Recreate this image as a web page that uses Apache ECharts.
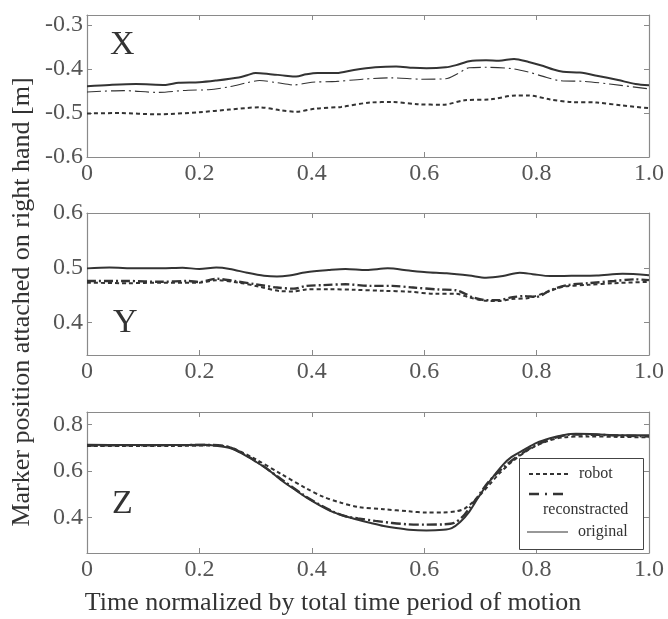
<!DOCTYPE html>
<html><head><meta charset="utf-8">
<script src="https://cdn.jsdelivr.net/npm/echarts@6/dist/echarts.min.js"></script>
<style>html,body{margin:0;padding:0;background:#fff}#c{width:668px;height:619px}</style>
</head><body><div id="c"></div>
<script>
// ---- tick labels / categories ----
const xTickLabels = ['0', '0.2', '0.4', '0.6', '0.8', '1.0'];
const panelNames = ['X', 'Y', 'Z'];
const seriesNames = ['robot', 'reconstracted', 'original'];
const yTicksX = [-0.6, -0.5, -0.4, -0.3];
const yTicksY = [0.4, 0.5, 0.6];
const yTicksZ = [0.4, 0.6, 0.8];
const yRangeX = [-0.6, -0.277];
const yRangeY = [0.341, 0.6];
const yRangeZ = [0.248, 0.854];

// ---- X panel ----
const xOriginal = [[0,-0.439],[0.04,-0.436],[0.087,-0.434],[0.14,-0.436],[0.163,-0.431],[0.2,-0.430],[0.23,-0.426],[0.27,-0.419],[0.285,-0.414],[0.3,-0.409],[0.323,-0.411],[0.353,-0.415],[0.372,-0.417],[0.39,-0.412],[0.41,-0.409],[0.444,-0.409],[0.475,-0.402],[0.513,-0.396],[0.55,-0.394],[0.58,-0.397],[0.604,-0.398],[0.638,-0.396],[0.657,-0.391],[0.68,-0.382],[0.71,-0.380],[0.733,-0.381],[0.76,-0.377],[0.786,-0.384],[0.812,-0.393],[0.83,-0.401],[0.847,-0.406],[0.877,-0.408],[0.907,-0.415],[0.945,-0.425],[0.976,-0.434],[1.0,-0.437]];
const xRecon = [[0,-0.452],[0.065,-0.449],[0.125,-0.453],[0.18,-0.448],[0.216,-0.447],[0.254,-0.440],[0.285,-0.431],[0.307,-0.426],[0.338,-0.431],[0.368,-0.436],[0.4,-0.430],[0.444,-0.428],[0.49,-0.423],[0.543,-0.420],[0.596,-0.423],[0.638,-0.422],[0.66,-0.410],[0.68,-0.397],[0.71,-0.396],[0.755,-0.399],[0.786,-0.407],[0.81,-0.416],[0.84,-0.426],[0.885,-0.428],[0.93,-0.434],[1.0,-0.445]];
const xRobot = [[0,-0.501],[0.057,-0.500],[0.125,-0.503],[0.2,-0.498],[0.254,-0.492],[0.307,-0.487],[0.345,-0.494],[0.372,-0.497],[0.406,-0.490],[0.452,-0.486],[0.505,-0.476],[0.543,-0.475],[0.588,-0.480],[0.634,-0.481],[0.672,-0.471],[0.718,-0.469],[0.763,-0.460],[0.786,-0.460],[0.824,-0.469],[0.862,-0.475],[0.907,-0.476],[0.953,-0.483],[1.0,-0.489]];

// ---- Y panel ----
const yOriginal = [[0,0.499],[0.04,0.5005],[0.087,0.499],[0.133,0.499],[0.17,0.500],[0.2,0.498],[0.23,0.5005],[0.254,0.498],[0.285,0.491],[0.315,0.4855],[0.338,0.484],[0.36,0.486],[0.39,0.492],[0.43,0.496],[0.46,0.498],[0.497,0.496],[0.535,0.499],[0.573,0.495],[0.604,0.492],[0.64,0.490],[0.68,0.486],[0.71,0.482],[0.74,0.485],[0.77,0.491],[0.793,0.4885],[0.824,0.485],[0.862,0.4855],[0.907,0.486],[0.953,0.489],[1.0,0.4865]];
const yRecon = [[0,0.476],[0.072,0.476],[0.133,0.4745],[0.18,0.476],[0.2,0.474],[0.23,0.480],[0.262,0.476],[0.3,0.470],[0.338,0.464],[0.368,0.462],[0.39,0.467],[0.42,0.4685],[0.46,0.470],[0.505,0.467],[0.543,0.467],[0.58,0.464],[0.626,0.4605],[0.657,0.459],[0.672,0.453],[0.687,0.446],[0.71,0.441],[0.733,0.441],[0.755,0.446],[0.778,0.4485],[0.8,0.447],[0.824,0.459],[0.855,0.4685],[0.892,0.472],[0.938,0.476],[0.976,0.479],[1.0,0.4775]];
const yRobot = [[0,0.473],[0.072,0.472],[0.133,0.473],[0.2,0.473],[0.23,0.4775],[0.27,0.473],[0.307,0.4655],[0.345,0.4575],[0.368,0.457],[0.39,0.4605],[0.43,0.461],[0.475,0.460],[0.528,0.458],[0.573,0.4565],[0.62,0.4525],[0.657,0.4525],[0.68,0.446],[0.71,0.440],[0.733,0.4395],[0.755,0.443],[0.786,0.445],[0.818,0.4555],[0.847,0.4655],[0.892,0.469],[0.938,0.472],[1.0,0.4745]];

// ---- Z panel ----
const zOriginal = [[0,0.713],[0.072,0.712],[0.148,0.712],[0.209,0.713],[0.23,0.709],[0.254,0.699],[0.277,0.674],[0.3,0.641],[0.323,0.605],[0.345,0.562],[0.368,0.523],[0.39,0.487],[0.414,0.453],[0.437,0.425],[0.46,0.406],[0.482,0.391],[0.505,0.377],[0.528,0.364],[0.55,0.355],[0.573,0.348],[0.604,0.345],[0.634,0.348],[0.649,0.355],[0.664,0.381],[0.68,0.425],[0.695,0.482],[0.71,0.536],[0.725,0.583],[0.74,0.627],[0.755,0.660],[0.778,0.692],[0.8,0.721],[0.824,0.741],[0.847,0.754],[0.87,0.760],[0.907,0.758],[0.945,0.754],[1.0,0.754]];
const zRecon = [[0,0.710],[0.224,0.712],[0.254,0.702],[0.3,0.644],[0.345,0.566],[0.39,0.490],[0.437,0.427],[0.46,0.406],[0.482,0.397],[0.513,0.386],[0.543,0.377],[0.573,0.371],[0.604,0.370],[0.634,0.371],[0.653,0.377],[0.668,0.403],[0.68,0.439],[0.695,0.489],[0.71,0.540],[0.725,0.581],[0.748,0.630],[0.77,0.670],[0.8,0.713],[0.83,0.741],[0.862,0.757],[0.907,0.756],[1.0,0.749]];
const zRobot = [[0,0.708],[0.148,0.708],[0.224,0.710],[0.254,0.703],[0.3,0.651],[0.345,0.588],[0.39,0.526],[0.42,0.490],[0.452,0.464],[0.482,0.446],[0.528,0.436],[0.573,0.427],[0.604,0.422],[0.634,0.422],[0.657,0.427],[0.672,0.439],[0.687,0.468],[0.702,0.504],[0.718,0.547],[0.733,0.588],[0.755,0.638],[0.786,0.692],[0.818,0.728],[0.847,0.745],[0.892,0.749],[0.945,0.747],[1.0,0.745]];

const FONT = '"Liberation Serif", "DejaVu Serif", serif';
const INK = '#333';
const FRAME = '#8a8a8a';
const LABEL = '#555';

const gridTops = [15, 213, 412];
const gridHeights = [142, 142, 141];
const yTicks = [yTicksX, yTicksY, yTicksZ];
const yRanges = [yRangeX, yRangeY, yRangeZ];
const panelData = [
  [xRobot, xRecon, xOriginal],
  [yRobot, yRecon, yOriginal],
  [zRobot, zRecon, zOriginal]
];
const reconStyle = [
  {width: 1.1, type: [14, 4, 2, 4]},
  {width: 2.4, type: [9, 3, 2, 3]},
  {width: 2.4, type: [10, 3, 2, 3]}
];

const grid = [], xAxis = [], yAxis = [], series = [];
for (let i = 0; i < 3; i++) {
  grid.push({left: 87, width: 562, top: gridTops[i], height: gridHeights[i]});
  const axLine = {show: true, onZero: false, lineStyle: {color: FRAME, width: 1.2}};
  const tick = {show: true, inside: true, length: 5, lineStyle: {color: FRAME, width: 1}};
  xAxis.push({
    type: 'value', gridIndex: i, position: 'bottom', min: 0, max: 1, interval: 0.2,
    axisLine: axLine, axisTick: tick, splitLine: {show: false},
    axisLabel: {
      margin: 5, color: LABEL, fontFamily: FONT, fontSize: 24,
      formatter: v => xTickLabels[Math.round(v / 0.2)]
    }
  });
  xAxis.push({
    type: 'value', gridIndex: i, position: 'top', min: 0, max: 1, interval: 0.2,
    axisLine: axLine, axisTick: tick, splitLine: {show: false}, axisLabel: {show: false}
  });
  yAxis.push({
    type: 'value', gridIndex: i, position: 'left', min: yRanges[i][0], max: yRanges[i][1],
    axisLine: axLine, splitLine: {show: false},
    axisTick: Object.assign({customValues: yTicks[i]}, tick),
    axisLabel: {
      customValues: yTicks[i], margin: 4, color: LABEL, fontFamily: FONT, fontSize: 24,
      formatter: v => v.toFixed(1)
    }
  });
  yAxis.push({
    type: 'value', gridIndex: i, position: 'right', min: yRanges[i][0], max: yRanges[i][1],
    axisLine: axLine, splitLine: {show: false},
    axisTick: Object.assign({customValues: yTicks[i]}, tick),
    axisLabel: {show: false}
  });
  const d = panelData[i];
  series.push({
    name: seriesNames[0], type: 'line', xAxisIndex: 2 * i, yAxisIndex: 2 * i,
    data: d[0], showSymbol: false, smooth: 0.3, z: 3,
    lineStyle: {color: INK, width: 2, type: [4, 3]}
  });
  series.push({
    name: seriesNames[1], type: 'line', xAxisIndex: 2 * i, yAxisIndex: 2 * i,
    data: d[1], showSymbol: false, smooth: 0.3, z: 4,
    lineStyle: {color: INK, width: reconStyle[i].width, type: reconStyle[i].type}
  });
  series.push({
    name: seriesNames[2], type: 'line', xAxisIndex: 2 * i, yAxisIndex: 2 * i,
    data: d[2], showSymbol: false, smooth: 0.3, z: 2,
    lineStyle: {color: INK, width: 2, type: 'solid'}
  });
}

const panelLabelPos = [[124, 46], [127, 324], [126, 505]];
const graphic = [];
panelNames.forEach((n, i) => {
  graphic.push({type: 'text', left: panelLabelPos[i][0] - 14, top: panelLabelPos[i][1] - 18, z: 10,
    style: {text: n, font: '34px ' + FONT, fill: INK}});
});
graphic.push({type: 'text', x: 22, y: 302, rotation: Math.PI / 2, z: 10,
  style: {text: 'Marker position attached on right hand [m]', font: '26px ' + FONT, fill: INK,
    align: 'center', verticalAlign: 'middle'}});
graphic.push({type: 'text', x: 333, y: 603, z: 10,
  style: {text: 'Time normalized by total time period of motion', font: '26px ' + FONT, fill: INK,
    align: 'center', verticalAlign: 'middle'}});
// legend box
graphic.push({type: 'rect', shape: {x: 519.5, y: 458.5, width: 124, height: 91}, z: 20,
  style: {fill: '#fff', stroke: '#444', lineWidth: 1}});
graphic.push({type: 'line', shape: {x1: 529, y1: 474, x2: 569, y2: 474}, z: 21,
  style: {stroke: INK, lineWidth: 2, lineDash: [4, 3]}});
graphic.push({type: 'text', x: 579, y: 474, z: 21,
  style: {text: seriesNames[0], font: '16px ' + FONT, fill: INK, verticalAlign: 'middle'}});
graphic.push({type: 'line', shape: {x1: 529, y1: 494, x2: 569, y2: 494}, z: 21,
  style: {stroke: INK, lineWidth: 2.4, lineDash: [10, 6, 2, 6]}});
graphic.push({type: 'text', x: 543, y: 510, z: 21,
  style: {text: seriesNames[1], font: '16px ' + FONT, fill: INK, verticalAlign: 'middle'}});
graphic.push({type: 'line', shape: {x1: 527, y1: 532, x2: 568, y2: 532}, z: 21,
  style: {stroke: INK, lineWidth: 1.2}});
graphic.push({type: 'text', x: 578, y: 532, z: 21,
  style: {text: seriesNames[2], font: '16px ' + FONT, fill: INK, verticalAlign: 'middle'}});

const chart = echarts.init(document.getElementById('c'), null, {renderer: 'canvas'});
chart.setOption({
  backgroundColor: '#fff',
  animation: false,
  grid, xAxis, yAxis, series, graphic
});
</script>
</body></html>
